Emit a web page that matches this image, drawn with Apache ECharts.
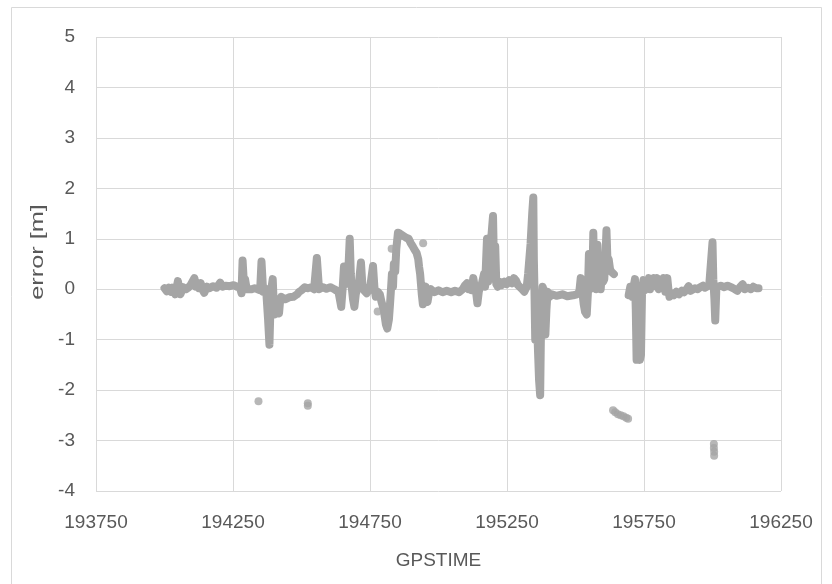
<!DOCTYPE html>
<html>
<head>
<meta charset="utf-8">
<script src="https://cdn.jsdelivr.net/npm/echarts@6/dist/echarts.min.js"></script>
<style>
html,body{margin:0;padding:0;background:#fff;}
#chart{width:832px;height:584px;}
</style>
</head>
<body>
<div id="chart"></div>
<script>
// Axis ticks
const xTicks = [193750, 194250, 194750, 195250, 195750, 196250];
const yTicks = [-4, -3, -2, -1, 0, 1, 2, 3, 4, 5];
const xTitle = 'GPSTIME';
const yTitle = 'error [m]';

// Main error trace (GPSTIME, error [m]); null = gap
const gpsTime = [
  194000,194008,194016,194024,194029,194039,194049,194054,194058,194068,
  194078,194087,194095,194101,194109,194115,194120,194126,194132,194138,
  194145,194155,194165,194177,194190,194197,194203,194212,194223,194238,
  194252,194265,194275,194281,194285,194291,194294,194300,194306,194318,
  194329,194340,194349,194354,194360,194366,194372,194378,194383,194387,
  194391,194395,194398,194401,194406,194411,194418,194422,194426,194440,
  194455,194470,194484,194492,194500,194512,194523,194535,194546,194556,
  194564,194578,194591,194605,194620,194635,194645,194650,194655,194660,
  194666,194672,194676,194680,194682,194688,194693,194698,194703,194710,
  194717,194722,194728,194738,194746,194752,194761,194766,194771,194778,
  194786,194792,194800,194808,194813,194819,194823,194826,194830,194834,
  194837,194842,194846,194852,194860,194871,194882,194891,194898,194906,
  194913,194920,194926,194929,194933,194936,194939,194943,194948,194953,
  194957,194960,194966,194972,194985,195000,195015,195030,195046,195060,
  195075,195088,195097,195104,195110,195115,195121,195127,195132,195137,
  195142,195147,195152,195158,195166,195170,195174,195177,195181,195185,
  195189,195193,195199,195203,195207,195211,195216,195223,195230,195240,
  195249,195258,195268,195275,195282,195290,195297,195305,195313,195322,
  195327,195336,195342,195346,195348,195350,195353,195356,195359,195363,
  195367,195371,195374,195377,195380,195383,195387,195390,195394,195398,
  195405,195413,195430,195452,195470,195491,195505,195514,195519,195524,
  195530,195535,195541,195545,195549,195553,195557,195561,195565,195568,
  195572,195576,195580,195584,195588,195592,195597,195601,195605,195609,
  195613,195617,195621,195626,195630,195640,195667,195694,195700,195704,
  195708,195712,195717,195720,195723,195727,195731,195735,195739,195743,
  195748,195753,195758,195763,195768,195772,195776,195781,195787,195793,
  195798,195804,195810,195816,195822,195828,195835,195840,195843,195850,
  195859,195868,195878,195888,195897,195905,195913,195920,195927,195936,
  195946,195955,195965,195972,195979,195988,195994,196000,196003,196007,
  196010,196014,196019,196030,196043,196055,196072,196082,196091,196100,
  196110,196118,196130,196140,196149,196160,196168
];
const errorM = [
  0.02,-0.04,0.03,-0.05,0.03,-0.10,0.16,0.00,-0.10,0.04,
  0.00,0.03,0.08,0.06,0.22,0.05,0.12,0.02,0.12,0.00,
  -0.07,0.05,0.02,0.06,0.03,0.08,0.13,0.05,0.07,0.06,
  0.08,0.05,0.04,-0.08,0.57,0.00,0.20,0.00,0.03,0.00,
  0.02,0.00,-0.02,0.55,-0.05,0.02,-0.10,-0.60,-1.10,-0.30,
  0.05,0.20,-0.20,-0.50,-0.25,-0.35,-0.48,-0.22,-0.15,-0.20,
  -0.16,-0.15,-0.10,-0.05,-0.02,0.04,0.02,0.04,0.00,0.62,
  0.00,0.04,0.01,0.04,0.00,-0.05,-0.35,0.00,0.45,0.10,
  0.20,0.50,1.00,0.30,0.10,-0.20,-0.35,-0.10,0.00,0.15,
  0.53,0.10,-0.02,-0.08,-0.02,0.10,0.46,0.05,-0.15,-0.05,
  -0.10,-0.25,-0.40,-0.70,-0.78,-0.60,-0.30,-0.05,0.30,0.05,
  0.50,0.35,0.80,1.12,1.10,1.06,1.02,1.00,0.92,0.85,
  0.78,0.72,0.60,0.45,0.30,0.10,-0.10,-0.30,-0.05,0.05,
  -0.20,-0.25,-0.05,0.00,-0.06,-0.02,-0.06,-0.03,-0.06,-0.03,
  -0.06,0.00,0.08,0.12,0.00,0.06,-0.02,0.22,0.05,-0.05,
  -0.28,-0.05,0.05,0.10,0.30,0.05,0.60,1.00,0.15,0.90,
  0.20,1.05,1.45,0.30,0.85,0.10,0.05,0.15,0.08,0.15,
  0.10,0.18,0.12,0.22,0.18,0.08,0.05,0.00,-0.05,0.05,
  0.30,0.90,1.50,1.82,0.60,0.05,-1.00,-0.20,-0.50,-1.20,
  -1.80,-2.10,-0.80,-0.30,0.05,0.00,-0.50,-0.90,-0.40,-0.05,
  -0.15,-0.10,-0.13,-0.10,-0.14,-0.12,-0.10,-0.05,0.22,0.00,
  -0.30,-0.45,-0.50,-0.10,0.70,0.00,0.60,0.05,1.12,0.20,
  0.80,0.00,0.88,0.10,0.65,0.00,0.40,0.15,0.20,0.60,
  1.17,0.50,0.60,0.40,0.35,0.30,null,-0.12,0.05,-0.05,
  -0.15,0.05,0.20,-0.40,-1.40,-1.00,-1.25,-1.40,-1.30,0.00,
  0.18,-0.02,0.15,0.02,0.22,0.00,0.20,0.05,0.22,0.10,
  0.22,0.00,0.15,0.05,0.22,-0.05,0.22,-0.05,-0.15,-0.08,
  -0.12,-0.05,-0.10,-0.03,-0.06,0.00,0.06,-0.03,-0.05,0.02,
  0.00,0.04,0.07,0.03,0.05,0.08,0.10,0.93,0.20,-0.20,
  -0.62,0.00,0.05,0.07,0.04,0.07,0.03,0.00,-0.03,0.04,
  0.10,0.00,0.03,0.00,0.05,0.02,0.02
];

// Separate points away from the main trace
const outlierTime = [194343, 194523, 194523, 194778, 194829, 194944,
  195637, 195645, 195655, 195665, 195675, 195685, 195692,
  196005, 196005, 196006, 196006];
const outlierErr = [-2.22, -2.26, -2.31, -0.44, 0.80, 0.91,
  -2.40, -2.44, -2.48, -2.50, -2.52, -2.55, -2.57,
  -3.07, -3.15, -3.22, -3.30];

const traceData = gpsTime.map((t, i) => [t, errorM[i]]);
const outlierData = outlierTime.map((t, i) => [t, outlierErr[i]]);

const GRAY = '#a5a5a5';
const GRID = '#d9d9d9';
const TXT = '#595959';
const FONT = '"Liberation Sans", Arial, sans-serif';

const chart = echarts.init(document.getElementById('chart'), null, {renderer: 'canvas'});
chart.setOption({
  animation: false,
  backgroundColor: '#ffffff',
  graphic: [
    {
      type: 'rect',
      shape: {x: 11.5, y: 7.5, width: 810, height: 590},
      style: {fill: 'none', stroke: GRID, lineWidth: 1},
      silent: true
    },
    {
      type: 'text',
      x: 38, y: 252,
      rotation: Math.PI / 2,
      scaleX: 1.33, scaleY: 1,
      style: {text: yTitle, fill: TXT, font: '19px ' + FONT,
        align: 'center', verticalAlign: 'middle', textAlign: 'center', textVerticalAlign: 'middle'},
      silent: true
    }
  ],
  grid: {left: 96, right: 51, top: 37, bottom: 93, containLabel: false},
  xAxis: {
    type: 'value',
    min: xTicks[0],
    max: xTicks[xTicks.length - 1],
    interval: 500,
    name: xTitle,
    nameLocation: 'middle',
    nameGap: 60,
    nameTextStyle: {color: TXT, fontFamily: FONT, fontSize: 19},
    axisLine: {show: false},
    axisTick: {show: false},
    axisLabel: {color: TXT, fontFamily: FONT, fontSize: 19, margin: 22,
      showMinLabel: true, showMaxLabel: true, formatter: v => String(v)},
    splitLine: {show: true, lineStyle: {color: GRID, width: 1}}
  },
  yAxis: {
    type: 'value',
    min: yTicks[0],
    max: yTicks[yTicks.length - 1],
    interval: 1,
    axisLine: {show: false},
    axisTick: {show: false},
    axisLabel: {color: TXT, fontFamily: FONT, fontSize: 19, margin: 21, formatter: v => String(v)},
    splitLine: {show: true, lineStyle: {color: GRID, width: 1}}
  },
  series: [
    {
      type: 'line',
      data: traceData,
      showSymbol: false,
      symbol: 'none',
      connectNulls: false,
      lineStyle: {color: GRAY, width: 8, cap: 'round', join: 'round'},
      z: 3
    },
    {
      type: 'scatter',
      data: outlierData,
      symbol: 'circle',
      symbolSize: 8,
      itemStyle: {color: GRAY},
      z: 3
    }
  ]
});
</script>
</body>
</html>
